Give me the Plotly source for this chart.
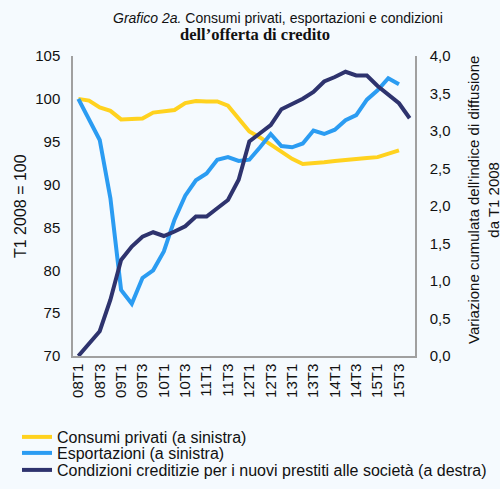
import plotly.graph_objects as go

quarters = [f"{y:02d}T{q}" for y in range(8, 16) for q in range(1, 5)]
tick_labels = quarters[::2]

consumi = [100.0, 99.8, 99.0, 98.6, 97.6, 97.6, 97.7, 98.4, 98.5, 98.7, 99.5,
           99.75, 99.7, 99.7, 99.2, 97.7, 96.2, 95.5, 94.7, 93.9, 93.0, 92.4,
           92.45, 92.6, 92.75, 92.9, 93.0, 93.1, 93.2, 93.6, 94.0]
esportazioni = [100.0, 97.7, 95.2, 88.4, 77.7, 76.1, 79.1, 80.0, 82.2, 85.9, 88.7,
                90.5, 91.3, 92.9, 93.2, 92.75, 92.9, 94.35, 95.9, 94.5, 94.35, 94.8,
                96.3, 95.9, 96.4, 97.5, 98.1, 99.9, 101.0, 102.4, 101.7]
condizioni = [0.0, 0.17, 0.33, 0.75, 1.28, 1.46, 1.59, 1.65, 1.60, 1.66, 1.73,
              1.86, 1.86, 1.97, 2.08, 2.35, 2.86, 2.97, 3.08, 3.29, 3.36, 3.43,
              3.52, 3.66, 3.72, 3.79, 3.74, 3.74, 3.60, 3.49, 3.37, 3.17]

left_ticks = [70, 75, 80, 85, 90, 95, 100, 105]
right_ticks = [0.0, 0.5, 1.0, 1.5, 2.0, 2.5, 3.0, 3.5, 4.0]

BG = "#f5fafe"
FONT = "Liberation Sans, Arial, sans-serif"

W, H = 500, 489
# plot area in pixels
L, R, T, B = 73, 415, 56, 356
PW, PH = R - L, B - T


def px_x(p):
    return (p - L) / PW


def px_y(p):
    return (B - p) / PH


fig = go.Figure()
fig.add_trace(go.Scatter(x=quarters[:len(consumi)], y=consumi, mode="lines",
                         name="Consumi privati (a sinistra)",
                         line=dict(color="#ffd21f", width=4), legend="legend"))
fig.add_trace(go.Scatter(x=quarters[:len(esportazioni)], y=esportazioni, mode="lines",
                         name="Esportazioni (a sinistra)",
                         line=dict(color="#2b9cf2", width=4), legend="legend2"))
fig.add_trace(go.Scatter(x=quarters[:len(condizioni)], y=condizioni, mode="lines",
                         name="Condizioni creditizie per i nuovi prestiti alle società (a destra)",
                         line=dict(color="#2e336e", width=4), yaxis="y2", legend="legend3"))

leg_common = dict(xref="container", yref="container", x=17 / W, xanchor="left",
                  yanchor="middle", bgcolor="rgba(0,0,0,0)",
                  font=dict(size=16, color="#111"), itemwidth=30)

fig.update_layout(
    width=W, height=H,
    paper_bgcolor=BG, plot_bgcolor=BG,
    margin=dict(l=L, r=W - R, t=T, b=H - B, autoexpand=False),
    font=dict(family=FONT, size=15, color="#111"),
    xaxis=dict(type="category", categoryorder="array", categoryarray=quarters,
               range=[-0.5, len(quarters) - 0.5], automargin=False,
               tickmode="array", tickvals=tick_labels, ticktext=tick_labels,
               tickangle=-90, showgrid=False, showline=True, linecolor="#a0a0a0",
               linewidth=1.5, ticks="", tickfont=dict(size=15)),
    yaxis=dict(range=[70, 105], tickvals=left_ticks, showgrid=False, automargin=False,
               showline=True, linecolor="#a0a0a0", linewidth=1.5, ticks="",
               zeroline=False, tickfont=dict(size=15), ticklabelstandoff=8),
    yaxis2=dict(range=[0, 4], tickvals=right_ticks, automargin=False,
                ticktext=[f"{v:.1f}".replace(".", ",") for v in right_ticks],
                overlaying="y", side="right", showgrid=False, showline=True,
                linecolor="#a0a0a0", linewidth=1.5, ticks="", zeroline=False,
                tickfont=dict(size=15), ticklabelstandoff=10),
    legend=dict(y=1 - 437 / H, **leg_common),
    legend2=dict(y=1 - 453 / H, **leg_common),
    legend3=dict(y=1 - 470 / H, **leg_common),
    showlegend=True,
)

# chart title
fig.add_annotation(xref="paper", yref="paper", x=px_x(278), y=px_y(18),
                   text="<i>Grafico 2a.</i> Consumi privati, esportazioni e condizioni",
                   showarrow=False, xanchor="center", yanchor="middle",
                   font=dict(family=FONT, size=14, color="#111"))
fig.add_annotation(xref="paper", yref="paper", x=px_x(255), y=px_y(35),
                   text="<b>dell’offerta di credito</b>",
                   showarrow=False, xanchor="center", yanchor="middle",
                   font=dict(family="Liberation Serif, Times New Roman, serif", size=16.5, color="#111"))
# axis titles
fig.add_annotation(xref="paper", yref="paper", x=px_x(20), y=px_y(206),
                   text="T1 2008 = 100", textangle=-90,
                   showarrow=False, xanchor="center", yanchor="middle",
                   font=dict(family=FONT, size=16, color="#111"))
fig.add_annotation(xref="paper", yref="paper", x=px_x(483), y=px_y(200),
                   text="Variazione cumulata dell'indice di diffusione<br>da T1 2008",
                   textangle=-90, showarrow=False, xanchor="center", yanchor="middle",
                   font=dict(family=FONT, size=15, color="#111"))

fig.write_html("out.html",
               config={"displayModeBar": False},
               post_script="document.body.style.margin='0';"
                           "document.body.style.background='" + BG + "';")
